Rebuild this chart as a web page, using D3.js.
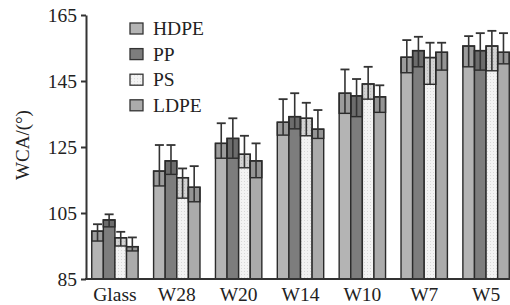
<!DOCTYPE html>
<html>
<head>
<meta charset="utf-8">
<script src="https://cdn.jsdelivr.net/npm/d3@7"></script>
<style>
  body { margin: 0; background: #fff; }
  text { font-family: "Liberation Serif", "Times New Roman", serif; fill: #222; }
</style>
</head>
<body>
<svg id="chart" width="510" height="305"></svg>
<script>
'use strict';

// data
var groups = ['Glass', 'W28', 'W20', 'W14', 'W10', 'W7', 'W5'];
var series = ['HDPE', 'PP', 'PS', 'LDPE'];
var yTicks = [85, 105, 125, 145, 165];

// bar height (mean)
var meanVals = [
  [99.5, 102.9, 97.5, 94.8],
  [117.7, 120.8, 115.7, 112.8],
  [126.1, 127.6, 122.8, 120.8],
  [132.5, 134.2, 133.7, 130.4],
  [141.3, 140.5, 144.1, 140.2],
  [152.2, 154.2, 152.1, 153.7],
  [155.6, 154.2, 155.6, 153.7]
];
// top of whisker
var upVals = [
  [101.6, 104.6, 99.3, 97.6],
  [125.6, 125.6, 118.5, 119.2],
  [132.2, 133.7, 128.4, 126.1],
  [139.5, 141.3, 138.4, 136.2],
  [148.5, 145.6, 149.3, 143.7],
  [157.4, 158.4, 156.6, 156.6],
  [158.6, 159.5, 160.2, 159.5]
];
// bottom of error box
var lowVals = [
  [96.5, 100.8, 95.0, 93.5],
  [113.2, 116.7, 109.5, 108.4],
  [121.6, 121.6, 118.7, 115.7],
  [128.6, 130.5, 128.4, 127.6],
  [135.2, 134.2, 139.5, 135.5],
  [147.5, 149.3, 144.0, 148.3],
  [149.3, 148.3, 148.1, 150.2]
];

var fills = {HDPE: '#b4b4b4', PP: '#7d7d7d', PS: '#f3f3f3', LDPE: '#ababab'};

var svg = d3.select('#chart');

var x0 = d3.scaleBand().domain(groups).range([84, 517]).paddingInner(0.25).paddingOuter(0.125);
var x1 = d3.scaleBand().domain(series).range([0, x0.bandwidth()]);
var y = d3.scaleLinear().domain([85, 165]).range([279, 15]);

// patterns for a bit of texture
var defs = svg.append('defs');
var pat = defs.append('pattern').attr('id', 'dots').attr('width', 3).attr('height', 3)
  .attr('patternUnits', 'userSpaceOnUse');
pat.append('rect').attr('width', 3).attr('height', 3).attr('fill', fills.PS);
pat.append('rect').attr('x', 1).attr('y', 1).attr('width', 1).attr('height', 1).attr('fill', '#d8d8d8');

function fillFor(s) {
  return s === 'PS' ? 'url(#dots)' : fills[s];
}

var rows = [];
groups.forEach(function(g, i) {
  series.forEach(function(s, j) {
    rows.push({g: g, s: s, mean: meanVals[i][j], up: upVals[i][j], low: lowVals[i][j]});
  });
});

var bw = x1.bandwidth();
var bars = svg.append('g');

bars.selectAll('rect.bar')
  .data(rows)
  .enter().append('rect')
    .attr('class', 'bar')
    .attr('x', function(d) { return x0(d.g) + x1(d.s); })
    .attr('y', function(d) { return y(d.mean); })
    .attr('width', bw)
    .attr('height', function(d) { return y(85) - y(d.mean); })
    .attr('fill', function(d) { return fillFor(d.s); })
    .attr('stroke', '#2b2b2b')
    .attr('stroke-width', 1.4);

// error box (lower part) drawn over bar
bars.selectAll('rect.ebox')
  .data(rows)
  .enter().append('rect')
    .attr('class', 'ebox')
    .attr('x', function(d) { return x0(d.g) + x1(d.s); })
    .attr('y', function(d) { return y(d.mean); })
    .attr('width', bw)
    .attr('height', function(d) { return y(d.low) - y(d.mean); })
    .attr('fill', 'rgba(0,0,0,0.13)')
    .attr('stroke', '#2b2b2b')
    .attr('stroke-width', 1.4);

// whisker line
bars.selectAll('line.whisk')
  .data(rows)
  .enter().append('line')
    .attr('class', 'whisk')
    .attr('x1', function(d) { return x0(d.g) + x1(d.s) + bw / 2; })
    .attr('x2', function(d) { return x0(d.g) + x1(d.s) + bw / 2; })
    .attr('y1', function(d) { return y(d.low); })
    .attr('y2', function(d) { return y(d.up); })
    .attr('stroke', '#333')
    .attr('stroke-width', 1.6);

// caps
bars.selectAll('line.cap')
  .data(rows)
  .enter().append('line')
    .attr('class', 'cap')
    .attr('x1', function(d) { return x0(d.g) + x1(d.s) + bw / 2 - 4.5; })
    .attr('x2', function(d) { return x0(d.g) + x1(d.s) + bw / 2 + 4.5; })
    .attr('y1', function(d) { return y(d.up); })
    .attr('y2', function(d) { return y(d.up); })
    .attr('stroke', '#333')
    .attr('stroke-width', 1.8);

// y axis
var yAxis = svg.append('g')
  .attr('transform', 'translate(86,0)')
  .call(d3.axisLeft(y).tickValues(yTicks).tickSize(5).tickSizeOuter(0).tickPadding(4));
yAxis.selectAll('.domain').attr('stroke', '#333').attr('stroke-width', 2);
yAxis.selectAll('.tick line').attr('stroke', '#333').attr('stroke-width', 2);
yAxis.selectAll('.tick text').style('font-size', '19.5px').attr('fill', '#222')
  .style('font-family', '"Liberation Serif", serif');

// x axis
var xAxis = svg.append('g')
  .attr('transform', 'translate(0,279)')
  .call(d3.axisBottom(x0).tickSize(0).tickPadding(8));
xAxis.select('.domain').remove();
svg.append('line')
  .attr('x1', 85).attr('x2', 510).attr('y1', 279).attr('y2', 279)
  .attr('stroke', '#333').attr('stroke-width', 2);
xAxis.selectAll('.tick text').style('font-size', '19.5px').attr('fill', '#222')
  .style('font-family', '"Liberation Serif", serif');

// y label
svg.append('text')
  .attr('transform', 'translate(29,145) rotate(-90)')
  .attr('text-anchor', 'middle')
  .style('font-size', '19px')
  .text('WCA/(°)');

// legend
var leg = svg.append('g').attr('transform', 'translate(130,23)');
var li = leg.selectAll('g').data(series).enter().append('g')
  .attr('transform', function(d, i) { return 'translate(0,' + (i * 25.6) + ')'; });
li.append('rect')
  .attr('width', 13).attr('height', 11)
  .attr('fill', function(d) { return fillFor(d); })
  .attr('stroke', '#333').attr('stroke-width', 1.3);
li.append('text')
  .attr('x', 23).attr('y', 12)
  .style('font-size', '19.5px')
  .text(function(d) { return d; });
</script>
</body>
</html>
